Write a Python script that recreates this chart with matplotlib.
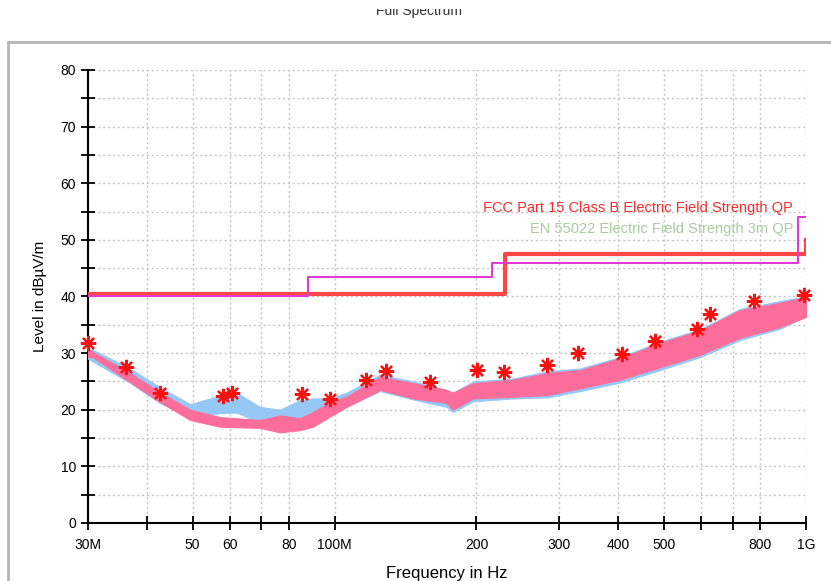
import numpy as np
import matplotlib.pyplot as plt
from matplotlib.patches import Rectangle

plt.rcParams['font.family'] = ['Liberation Sans', 'DejaVu Sans']

# spectrum envelopes (MHz, dBuV/m)
pk_freq = [30, 30.7, 36.8, 42.6, 49.4, 57.2, 69.5, 76.6, 84.5, 90, 97.3, 106,
           125, 147, 173, 178, 197, 239, 283, 332, 403, 490, 596, 724, 881, 1000]
pk_lo = [29.3, 29.3, 24.9, 21.4, 18.2, 17.0, 16.8, 16.0, 16.4, 17.0, 18.7, 20.5,
         23.5, 22.0, 21.2, 20.0, 22.0, 22.3, 22.6, 23.8, 25.3, 27.5, 29.7, 32.7, 34.6, 36.4]
pk_hi = [30.8, 30.2, 26.5, 23.1, 20.0, 18.7, 18.2, 19.0, 18.5, 19.6, 21.2, 22.3,
         25.8, 24.7, 23.5, 23.0, 24.7, 25.3, 26.5, 27.0, 29.1, 31.8, 34.0, 37.6, 38.9, 39.9]

av_freq = [30, 36.8, 42.6, 49.4, 57.2, 62, 69.5, 76.6, 84.5, 90, 97.3, 106,
           125, 147, 173, 178, 197, 239, 283, 332, 403, 490, 596, 724, 881, 1000]
av_lo = [29.0, 24.8, 21.2, 18.7, 19.4, 19.5, 17.7, 17.5, 18.7, 19.0, 19.4, 20.5,
         23.3, 21.8, 20.5, 19.6, 21.5, 22.0, 22.2, 23.3, 24.8, 27.0, 29.3, 32.3, 34.3, 36.5]
av_hi = [31.0, 27.3, 24.0, 21.0, 22.5, 23.0, 20.5, 20.0, 21.7, 22.0, 22.0, 23.0,
         26.2, 25.0, 23.5, 23.0, 25.0, 25.5, 26.8, 27.3, 29.3, 32.0, 34.2, 37.8, 39.2, 40.0]

# quasi-peak markers
qp_freq = [30.0, 36.1, 42.6, 58.1, 60.5, 85.3, 97.8, 116.6, 128.6, 159.4, 200.2,
           228.8, 282.7, 328.9, 406.6, 478.3, 586.3, 625.7, 774.6, 991.5]
qp_level = [31.7, 27.6, 22.9, 22.4, 23.0, 22.7, 21.95, 25.25, 26.8, 24.95, 27.1,
            26.7, 27.9, 30.0, 29.85, 32.2, 34.2, 36.9, 39.15, 40.3]

# limit lines
fcc_freq = [30, 88, 88, 216, 216, 960, 960, 1000]
fcc_level = [40, 40, 43.5, 43.5, 46, 46, 54, 54]
en_freq = [30, 230, 230, 1000, 1000]
en_level = [40.5, 40.5, 47.5, 47.5, 50]

xticks = [30, 40, 50, 60, 70, 80, 100, 200, 300, 400, 500, 600, 700, 800, 1000]
xlabels = ['30M', '', '50', '60', '', '80', '100M', '200', '300', '400', '500', '', '', '800', '1G']

fig = plt.figure(figsize=(8.31, 5.81), dpi=100)
ax = fig.add_axes([88/831, 1 - 523/581, 718/831, 453/581])

# grey frame of the window
fig.patches.append(Rectangle((8/831, -0.1), 1.0, 1 - 42/581 + 0.1, transform=fig.transFigure,
                             fill=False, edgecolor='#b4b4b4', linewidth=2, clip_on=False))
# title is cut off at the top in the original
title = fig.text(419/831, 1 - 11/581, 'Full Spectrum', ha='center', va='center',
                 fontsize=10, color='#333333')
clip = Rectangle((0, 0), 1, 1 - 9/581, transform=fig.transFigure)
title.set_clip_path(clip)
title.set_clip_on(True)

ax.plot(en_freq, en_level, color='#ff4646', linewidth=3, zorder=3)
ax.plot(fcc_freq, fcc_level, color='#e03cd2', linewidth=1.5, zorder=4)

ax.fill_between(av_freq, av_lo, av_hi, color='#96c8f5', linewidth=0.8, edgecolor='#96c8f5', zorder=5)
ax.fill_between(pk_freq, pk_lo, pk_hi, color='#ff6e9b', linewidth=0.8, edgecolor='#ff6e9b', zorder=6)

ax.plot(qp_freq, qp_level, linestyle='none', marker=(8, 2, 0), markersize=11,
        markeredgewidth=1.6, color='#ff1010', zorder=7, clip_on=False)

ax.set_xscale('log')
ax.set_xlim(30, 1000)
ax.set_ylim(0, 80)
ax.set_xticks(xticks)
ax.set_xticklabels(xlabels)
ax.xaxis.set_minor_locator(plt.NullLocator())
ax.set_yticks(np.arange(0, 81, 5))
ax.set_yticklabels([str(v) if v % 10 == 0 else '' for v in range(0, 81, 5)])

ax.grid(True, color='#c4c4c4', linestyle=(0, (1.5, 2)), linewidth=1)
ax.set_axisbelow(True)
for s in ['top', 'right']:
    ax.spines[s].set_visible(False)
for s in ['left', 'bottom']:
    ax.spines[s].set_linewidth(1.5)
ax.tick_params(direction='inout', length=10, width=1.3, labelsize=10, colors='black')
ax.tick_params(axis='x', pad=6)

ax.set_xlabel('Frequency in Hz', fontsize=12, labelpad=10)
ax.set_ylabel('Level in dB\u00b5V/m', fontsize=11, labelpad=10)

ax.text(938, 55.6, 'FCC Part 15 Class B Electric Field Strength QP',
        ha='right', va='center', fontsize=10.5, color='#ff2a2a', zorder=8)
ax.text(938, 51.9, 'EN 55022 Electric Field Strength 3m QP',
        ha='right', va='center', fontsize=10.5, color='#a8cca0', zorder=8)

fig.savefig('out.png', dpi=100)
